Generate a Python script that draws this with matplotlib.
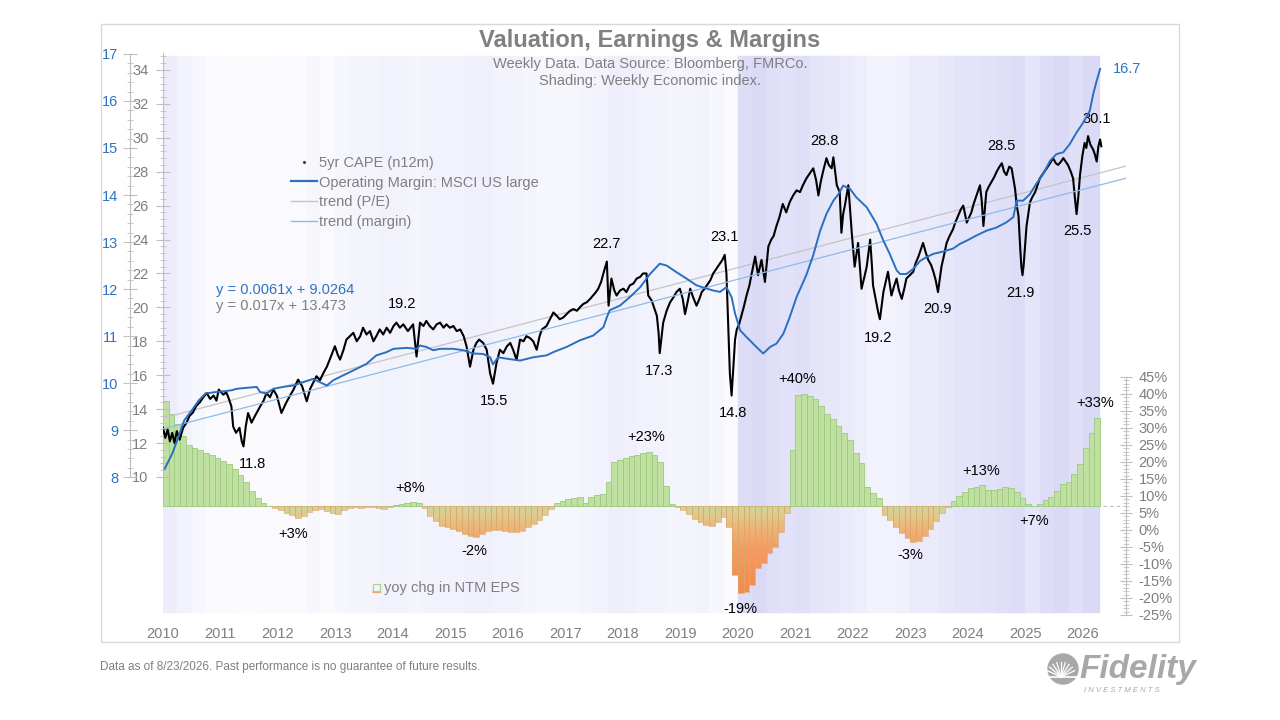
import numpy as np
import matplotlib.pyplot as plt
from matplotlib.colors import LinearSegmentedColormap, to_rgb
from matplotlib.patches import Rectangle, PathPatch, Circle
from matplotlib.path import Path
from matplotlib.lines import Line2D

plt.rcParams['font.family'] = ['Liberation Sans', 'DejaVu Sans']

# ---------------- data ----------------
# 5yr CAPE (n12m), weekly series sampled
cape_years = [
    2010.00, 2010.04, 2010.08, 2010.12, 2010.16, 2010.20, 2010.24, 2010.29, 2010.35, 2010.41,
    2010.46, 2010.52, 2010.58, 2010.64, 2010.70, 2010.76, 2010.82, 2010.88, 2010.93, 2010.97,
    2011.05, 2011.10, 2011.14, 2011.19, 2011.22, 2011.27, 2011.33, 2011.37, 2011.40, 2011.44,
    2011.48, 2011.54, 2011.60, 2011.69, 2011.75, 2011.80, 2011.86, 2011.92, 2011.98, 2012.06,
    2012.14, 2012.21, 2012.27, 2012.35, 2012.42, 2012.47, 2012.50, 2012.56, 2012.62, 2012.67,
    2012.73, 2012.79, 2012.85, 2012.90, 2012.99, 2013.04, 2013.08, 2013.14, 2013.19, 2013.25,
    2013.31, 2013.37, 2013.43, 2013.48, 2013.54, 2013.60, 2013.66, 2013.71, 2013.77, 2013.83,
    2013.89, 2013.95, 2014.01, 2014.06, 2014.12, 2014.18, 2014.26, 2014.35, 2014.41, 2014.47,
    2014.53, 2014.58, 2014.64, 2014.70, 2014.76, 2014.82, 2014.88, 2014.93, 2014.99, 2015.05,
    2015.11, 2015.17, 2015.23, 2015.28, 2015.34, 2015.40, 2015.45, 2015.50, 2015.57, 2015.63,
    2015.69, 2015.74, 2015.80, 2015.86, 2015.92, 2015.98, 2016.04, 2016.09, 2016.15, 2016.21,
    2016.27, 2016.32, 2016.38, 2016.44, 2016.50, 2016.55, 2016.59, 2016.67, 2016.73, 2016.79,
    2016.85, 2016.90, 2016.96, 2017.02, 2017.08, 2017.14, 2017.20, 2017.25, 2017.31, 2017.37,
    2017.43, 2017.48, 2017.53, 2017.57, 2017.62, 2017.66, 2017.72, 2017.75, 2017.80, 2017.85,
    2017.89, 2017.95, 2018.01, 2018.06, 2018.12, 2018.18, 2018.24, 2018.30, 2018.35, 2018.41,
    2018.44, 2018.50, 2018.53, 2018.59, 2018.62, 2018.64, 2018.67, 2018.70, 2018.76, 2018.82,
    2018.88, 2018.93, 2018.99, 2019.04, 2019.08, 2019.13, 2019.17, 2019.22, 2019.28, 2019.33,
    2019.37, 2019.42, 2019.46, 2019.52, 2019.57, 2019.63, 2019.69, 2019.73, 2019.77, 2019.80,
    2019.83, 2019.86, 2019.89, 2019.92, 2019.95, 2019.98, 2020.02, 2020.06, 2020.10, 2020.15,
    2020.20, 2020.24, 2020.30, 2020.35, 2020.41, 2020.47, 2020.53, 2020.58, 2020.62, 2020.67,
    2020.72, 2020.78, 2020.84, 2020.90, 2020.96, 2021.02, 2021.08, 2021.13, 2021.19, 2021.25,
    2021.31, 2021.36, 2021.40, 2021.44, 2021.48, 2021.54, 2021.58, 2021.63, 2021.66, 2021.69,
    2021.72, 2021.77, 2021.80, 2021.83, 2021.86, 2021.92, 2021.95, 2021.98, 2022.03, 2022.09,
    2022.15, 2022.20, 2022.24, 2022.30, 2022.33, 2022.35, 2022.40, 2022.44, 2022.47, 2022.53,
    2022.57, 2022.61, 2022.67, 2022.72, 2022.76, 2022.80, 2022.85, 2022.90, 2022.93, 2022.99,
    2023.05, 2023.09, 2023.14, 2023.18, 2023.22, 2023.27, 2023.31, 2023.36, 2023.40, 2023.44,
    2023.48, 2023.54, 2023.58, 2023.63, 2023.68, 2023.74, 2023.78, 2023.83, 2023.88, 2023.92,
    2023.98, 2024.02, 2024.06, 2024.10, 2024.15, 2024.21, 2024.24, 2024.27, 2024.32, 2024.36,
    2024.41, 2024.46, 2024.50, 2024.55, 2024.59, 2024.63, 2024.67, 2024.72, 2024.76, 2024.82,
    2024.85, 2024.88, 2024.91, 2024.93, 2024.95, 2024.97, 2025.02, 2025.08, 2025.12, 2025.17,
    2025.21, 2025.25, 2025.31, 2025.37, 2025.43, 2025.48, 2025.53, 2025.57, 2025.62, 2025.66,
    2025.70, 2025.74, 2025.79, 2025.83, 2025.86, 2025.89, 2025.92, 2025.95, 2025.99, 2026.03,
    2026.06, 2026.09, 2026.13, 2026.18, 2026.21, 2026.24, 2026.27, 2026.30, 2026.32,
]
cape_vals = [
    12.9, 12.3, 12.8, 12.1, 12.6, 12.0, 12.7, 12.2, 12.9, 13.2,
    13.6, 13.8, 14.2, 14.4, 14.7, 14.95, 14.6, 14.8, 14.5, 15.15,
    14.85, 15.0, 14.66, 14.16, 12.98, 12.6, 12.9, 12.1, 11.8, 13.0,
    13.77, 13.2, 13.6, 14.16, 14.5, 14.95, 14.7, 15.15, 14.8, 13.77,
    14.36, 14.8, 15.15, 15.74, 15.35, 14.8, 14.46, 15.2, 15.6, 15.94,
    15.7, 16.13, 16.5, 16.92, 17.71, 17.2, 16.92, 17.5, 18.1, 18.3,
    18.5, 18.0, 18.3, 18.8, 18.4, 18.6, 18.0, 18.3, 18.7, 18.4,
    18.8, 18.5, 18.9, 19.1, 18.8, 19.0, 18.6, 19.0, 17.1, 19.1,
    18.9, 19.2, 18.9, 18.7, 19.0, 19.1, 18.8, 19.0, 18.8, 18.9,
    18.6, 18.7, 18.3, 17.7, 16.5, 17.5, 17.9, 18.1, 17.9, 17.5,
    16.1, 15.5, 16.7, 17.5, 17.3, 17.7, 17.9, 17.5, 16.9, 18.1,
    18.0, 18.3, 18.2, 18.0, 17.5, 18.3, 18.7, 18.9, 19.3, 19.7,
    19.5, 19.3, 19.4, 19.6, 19.8, 19.9, 19.8, 20.0, 20.2, 20.3,
    20.5, 20.7, 20.9, 21.1, 21.5, 22.0, 22.7, 20.1, 21.7, 21.0,
    20.7, 21.0, 21.1, 20.9, 21.3, 21.4, 21.7, 21.8, 22.0, 22.0,
    20.7, 20.4, 20.1, 19.5, 18.5, 17.3, 18.2, 19.1, 19.8, 20.3,
    20.6, 20.9, 21.1, 20.5, 19.6, 20.4, 21.1, 20.6, 20.1, 20.5,
    20.9, 21.1, 21.3, 21.6, 22.0, 22.3, 22.6, 22.8, 23.1, 22.0,
    19.1, 16.1, 14.8, 16.5, 18.1, 18.7, 19.0, 19.5, 20.0, 20.7,
    21.3, 22.0, 23.0, 21.9, 22.8, 21.5, 23.6, 24.0, 24.2, 24.8,
    25.3, 26.1, 25.6, 26.2, 26.6, 26.9, 26.8, 27.2, 27.6, 27.9,
    28.2, 27.5, 26.6, 27.4, 28.0, 28.8, 28.4, 28.2, 28.85, 28.0,
    27.2, 26.8, 24.4, 25.5, 26.0, 27.2, 25.8, 24.4, 22.4, 23.8,
    21.1, 21.8, 22.4, 24.0, 22.5, 21.3, 20.4, 19.7, 19.3, 20.9,
    21.5, 22.1, 20.7, 21.3, 21.7, 21.0, 20.5, 21.2, 21.7, 21.9,
    22.1, 22.6, 23.0, 23.4, 23.8, 23.2, 22.8, 22.5, 22.1, 21.6,
    20.9, 22.4, 23.0, 23.8, 24.2, 24.6, 25.0, 25.4, 25.8, 26.0,
    25.0, 25.3, 25.6, 26.1, 26.6, 27.2, 26.3, 24.8, 26.8, 27.1,
    27.4, 27.7, 28.0, 28.3, 28.5, 28.0, 27.8, 28.3, 28.2, 27.0,
    26.0, 25.4, 23.5, 22.4, 21.9, 22.5, 24.8, 26.2, 26.5, 26.8,
    27.2, 27.6, 27.9, 28.2, 28.5, 28.8, 28.5, 28.4, 28.6, 28.8,
    28.6, 28.4, 28.0, 27.6, 26.5, 25.5, 26.5, 27.8, 28.9, 29.7,
    29.4, 30.1, 29.6, 29.3, 29.0, 28.6, 29.5, 29.9, 29.5,
]

# Operating margin: MSCI US large
margin_years = [
    2010.03, 2010.16, 2010.27, 2010.37, 2010.50, 2010.62, 2010.74, 2010.91, 2011.08, 2011.20,
    2011.28, 2011.45, 2011.63, 2011.69, 2011.80, 2011.92, 2012.09, 2012.27, 2012.44, 2012.61,
    2012.73, 2012.85, 2012.96, 2013.14, 2013.31, 2013.54, 2013.71, 2013.89, 2014.01, 2014.24,
    2014.41, 2014.47, 2014.58, 2014.70, 2014.82, 2015.05, 2015.22, 2015.40, 2015.57, 2015.69,
    2015.74, 2015.83, 2015.98, 2016.21, 2016.44, 2016.67, 2016.79, 2017.02, 2017.25, 2017.48,
    2017.66, 2017.72, 2017.77, 2017.95, 2018.12, 2018.30, 2018.47, 2018.64, 2018.76, 2018.93,
    2019.11, 2019.28, 2019.46, 2019.57, 2019.69, 2019.80, 2019.89, 2019.95, 2020.04, 2020.15,
    2020.32, 2020.44, 2020.56, 2020.67, 2020.79, 2020.90, 2021.02, 2021.19, 2021.31, 2021.43,
    2021.54, 2021.66, 2021.75, 2021.83, 2021.95, 2022.06, 2022.24, 2022.41, 2022.53, 2022.64,
    2022.76, 2022.82, 2022.93, 2023.05, 2023.17, 2023.28, 2023.40, 2023.51, 2023.63, 2023.74,
    2023.86, 2023.98, 2024.15, 2024.32, 2024.50, 2024.67, 2024.79, 2024.85, 2024.96, 2025.08,
    2025.19, 2025.31, 2025.43, 2025.54, 2025.66, 2025.77, 2025.89, 2025.99, 2026.12, 2026.18,
    2026.24, 2026.30,
]
margin_vals = [
    8.18, 8.50, 8.86, 9.21, 9.42, 9.63, 9.78, 9.81, 9.83, 9.85,
    9.88, 9.90, 9.92, 9.81, 9.78, 9.88, 9.92, 9.95, 10.02, 10.09,
    10.02, 9.95, 10.06, 10.17, 10.27, 10.41, 10.59, 10.66, 10.73, 10.75,
    10.73, 10.80, 10.77, 10.70, 10.73, 10.73, 10.70, 10.63, 10.62, 10.55,
    10.40, 10.55, 10.52, 10.48, 10.55, 10.59, 10.66, 10.77, 10.91, 11.01,
    11.19, 11.40, 11.55, 11.65, 11.83, 12.04, 12.32, 12.54, 12.50, 12.36,
    12.22, 12.08, 12.01, 11.97, 11.94, 12.04, 11.83, 11.48, 11.12, 10.98,
    10.77, 10.63, 10.77, 10.84, 11.05, 11.40, 11.83, 12.30, 12.72, 13.24,
    13.60, 13.88, 14.02, 14.20, 14.13, 13.95, 13.74, 13.39, 13.03, 12.75,
    12.40, 12.32, 12.32, 12.43, 12.60, 12.68, 12.75, 12.78, 12.82, 12.86,
    12.96, 13.03, 13.14, 13.24, 13.31, 13.42, 13.53, 13.88, 13.88, 14.02,
    14.24, 14.45, 14.73, 14.87, 14.91, 15.08, 15.33, 15.51, 15.79, 16.15,
    16.43, 16.68,
]

# yoy chg in NTM EPS (%), one bar every 0.1 year from 2010.0
eps_start = 2010.0
eps_step = 0.1
eps_base = 7.0
eps_yoy = [
    38.0, 34.0, 31.0, 27.5, 25.0, 24.0, 23.5, 22.5, 22.0, 21.2,   # 2010
    20.4, 19.3, 18.0, 16.3, 14.0, 11.5, 9.5, 8.0, 7.1, 6.5,       # 2011
    5.8, 5.1, 4.3, 3.4, 4.2, 5.2, 5.8, 6.1, 5.6, 5.0,             # 2012
    4.8, 5.8, 6.4, 6.6, 6.4, 6.8, 6.8, 6.4, 6.1, 6.6,             # 2013
    7.2, 7.6, 7.9, 8.1, 7.9, 6.5, 4.0, 2.5, 1.2, 0.8,             # 2014
    0.3, -0.3, -1.2, -1.8, -2.0, -1.2, -0.3, 0.0, 0.0, -0.2,      # 2015
    -0.5, -0.5, -0.2, 0.8, 1.8, 3.0, 4.5, 6.2, 8.0, 8.5,          # 2016
    9.2, 9.3, 9.6, 7.8, 9.8, 10.3, 10.5, 14.2, 20.0, 20.5,        # 2017
    21.1, 21.8, 22.1, 22.6, 23.0, 22.1, 20.1, 12.8, 7.6, 6.6,     # 2018
    5.9, 4.6, 3.2, 2.2, 1.6, 1.2, 2.4, 3.9, 1.0, -13.2,           # 2019
    -18.6, -18.1, -16.2, -11.3, -9.8, -6.9, -4.9, -0.5, 4.9, 23.5,  # 2020
    39.7, 40.0, 39.5, 38.5, 36.5, 34.0, 32.6, 30.5, 28.5, 26.5,   # 2021
    22.5, 19.6, 12.5, 11.0, 9.5, 4.4, 3.0, 1.0, -1.0, -2.5,       # 2022
    -3.4, -3.2, -1.8, 0.3, 2.5, 5.0, 6.8, 8.5, 10.0, 11.2,        # 2023
    12.3, 12.7, 13.1, 11.8, 11.7, 12.0, 12.5, 12.3, 11.2, 9.5,    # 2024
    7.6, 7.1, 7.6, 8.8, 9.8, 11.5, 13.5, 14.2, 16.5, 19.5,        # 2025
    24.0, 28.5, 33.0,                                             # 2026
]

# Weekly economic index shading, quarterly intensity 0..1
shade_start = 2010.0
shade_step = 0.25
shade_end = 2026.3
shade_level = [
    0.45, 0.30, 0.20, 0.15,
    0.15, 0.10, 0.10, 0.12,
    0.12, 0.15, 0.20, 0.15,
    0.20, 0.25, 0.25, 0.30,
    0.30, 0.25, 0.30, 0.30,
    0.30, 0.35, 0.35, 0.30,
    0.30, 0.25, 0.20, 0.20,
    0.20, 0.25, 0.30, 0.40,
    0.35, 0.30, 0.30, 0.25,
    0.25, 0.30, 0.20, 0.10,
    0.80, 0.85, 0.75, 0.70,
    0.75, 0.60, 0.55, 0.50,
    0.40, 0.30, 0.30, 0.35,
    0.50, 0.50, 0.55, 0.65,
    0.65, 0.70, 0.75, 0.80,
    0.60, 0.80, 0.85, 0.75,
    0.85, 0.85,
]

# linear trends, x = weeks since start of 2010
pe_trend = (0.017, 13.473)
margin_trend = (0.0061, 9.0264)
trend_end = 2026.75

# highs / lows called out on the chart: (year, value, +1 above / -1 below)
cape_marks = [
    (2011.55, 11.8, -1), (2014.16, 19.2, 1), (2015.76, 15.5, -1), (2017.71, 22.7, 1),
    (2018.63, 17.3, -1), (2019.77, 23.1, 1), (2019.91, 14.8, -1), (2021.51, 28.8, 1),
    (2022.43, 19.2, -1), (2023.48, 20.9, -1), (2024.59, 28.5, 1), (2024.92, 21.9, -1),
    (2025.91, 25.5, -1), (2026.24, 30.1, 1),
]
eps_marks = [
    (2012.26, 3, -1), (2014.30, 8, 1), (2015.41, -2, -1), (2018.40, 23, 1),
    (2020.05, -19, -1), (2021.03, 40, 1), (2022.99, -3, -1), (2024.23, 13, 1),
    (2025.15, 7, -1), (2026.21, 33, 1),
]

years = list(range(2010, 2027))

# ---------------- figure ----------------
W, H = 1280, 720
fig = plt.figure(figsize=(W / 100, H / 100), dpi=100)


def fx(p):
    return p / W


def fy(p):
    return 1 - p / H


gray = '#7f7f7f'
spine_c = '#bfbfbf'
blue_txt = '#2f72c4'
blue_line = '#2a6fc0'

L, R, T, B = 163, 1126, 53, 615
ax_eps = fig.add_axes([fx(L), fy(B), (R - L) / W, (B - T) / H])
ax_cape = ax_eps.twinx()
ax_mar = ax_eps.twinx()
for a in (ax_eps, ax_cape, ax_mar):
    a.patch.set_visible(False)
    for s in a.spines.values():
        s.set_visible(False)

x0, x1 = 2010.0, 2026.75

# shading bands
lav = np.array(to_rgb('#d4d4f6'))
for i, t in enumerate(shade_level):
    a = shade_start + i * shade_step
    b = min(a + shade_step, shade_end)
    c = 1 - (1 - lav) * t
    ax_eps.axvspan(a, b, ymin=0.004, ymax=0.995, facecolor=c, edgecolor=c, lw=0.3, zorder=0)

# EPS bars
v = np.array(eps_yoy)
xb = eps_start + eps_step * (np.arange(len(v)) + 0.5)
up = v >= eps_base
ax_eps.axhline(eps_base, color=spine_c, ls=(0, (3, 3)), lw=0.8, zorder=1)
ax_eps.bar(xb[up], v[up] - eps_base, bottom=eps_base, width=eps_step,
           color='#c0e0a2', edgecolor='#9ccb7c', lw=0.6, zorder=2)

rects = []
for xc, val in zip(xb[~up], v[~up]):
    r = Rectangle((xc - eps_step / 2, val), eps_step, eps_base - val)
    rects.append(r.get_path().transformed(r.get_patch_transform()))
clip = PathPatch(Path.make_compound_path(*rects), transform=ax_eps.transData,
                 facecolor='none', edgecolor='none')
ax_eps.add_patch(clip)
neg_cmap = LinearSegmentedColormap.from_list(
    'neg', [(0.0, '#f6854a'), (0.556, '#f39e64'), (0.741, '#efb176'),
            (0.889, '#e2c98c'), (1.0, '#cbd69c')])
grad = np.linspace(-20, eps_base, 256).reshape(-1, 1)
im = ax_eps.imshow(grad, cmap=neg_cmap, vmin=-20, vmax=eps_base, origin='lower',
                   extent=[x0, x1, -20, eps_base], aspect='auto',
                   interpolation='bilinear', zorder=2)
im.set_clip_path(clip)
ax_eps.bar(xb[~up], v[~up] - eps_base, bottom=eps_base, width=eps_step,
           facecolor='none', edgecolor='#d9a86a', lw=0.6, alpha=0.8, zorder=3)

# CAPE + trends
tt = np.array([x0, trend_end])
wk = (tt - x0) * 52.18
ax_cape.plot(tt, pe_trend[0] * wk + pe_trend[1], color='#c4c4c4', lw=0.9, zorder=2)
ax_cape.plot(cape_years, cape_vals, color='black', lw=1.5, zorder=3)

# margin + trend
ax_mar.plot(tt, margin_trend[0] * wk + margin_trend[1], color='#8dbbe8', lw=0.9, zorder=2)
ax_mar.plot(margin_years, margin_vals, color=blue_line, lw=1.4, zorder=3)

# limits
ax_eps.set_xlim(x0, x1)
ax_eps.set_ylim(-25, 140.2)
ax_cape.set_ylim(1.86, 35.0)
ax_mar.set_ylim(5.07, 17.02)

# x axis
ax_eps.set_xticks(years)
ax_eps.tick_params(axis='x', length=0, pad=9, labelsize=10.5, labelcolor=gray)

# right axis: EPS %
ax_eps.yaxis.tick_right()
ax_eps.spines['right'].set_visible(True)
ax_eps.spines['right'].set_color(spine_c)
ax_eps.spines['right'].set_bounds(-25, 45)
ax_eps.set_yticks(np.arange(-25, 46, 5))
ax_eps.set_yticks(np.arange(-25, 46, 1), minor=True)
ax_eps.yaxis.set_major_formatter(lambda val, pos: f'{val:.0f}%')
ax_eps.tick_params(axis='y', which='major', direction='inout', length=8, width=0.8,
                   color=spine_c, labelsize=10.5, labelcolor=gray, pad=5)
ax_eps.tick_params(axis='y', which='minor', direction='inout', length=4, width=0.6,
                   color=spine_c)

# left axis: CAPE
ax_cape.yaxis.tick_left()
ax_cape.spines['left'].set_visible(True)
ax_cape.spines['left'].set_color(spine_c)
ax_cape.spines['left'].set_bounds(10, 35)
ax_cape.set_yticks(np.arange(10, 35, 2))
ax_cape.set_yticks(np.arange(10, 35.01, 0.4), minor=True)
ax_cape.tick_params(axis='y', which='major', direction='inout', length=10, width=0.8,
                    color=spine_c, labelsize=10.5, labelcolor=gray, pad=5.5)
ax_cape.tick_params(axis='y', which='minor', direction='inout', length=4, width=0.6,
                    color=spine_c)

# outer left axis: margin
ax_mar.yaxis.tick_left()
ax_mar.spines['left'].set_visible(True)
ax_mar.spines['left'].set_color(spine_c)
ax_mar.spines['left'].set_position(('outward', 23.8))
ax_mar.spines['left'].set_bounds(8, 17)
ax_mar.set_yticks(np.arange(8, 18, 1))
ax_mar.set_yticks(np.arange(8, 17.01, 0.2), minor=True)
ax_mar.tick_params(axis='y', which='major', direction='inout', length=10, width=0.8,
                   color=spine_c, labelsize=10.5, labelcolor=blue_txt, pad=3.5)
ax_mar.tick_params(axis='y', which='minor', direction='inout', length=4, width=0.6,
                   color=spine_c)

# callouts
for xm, val, side in cape_marks:
    ax_cape.annotate(f'{val:.1f}', (xm, val), xytext=(0, 12.5 * side),
                     textcoords='offset points', ha='center', va='center',
                     fontsize=10.5, color='black', zorder=5)
for xm, val, side in eps_marks:
    txt = f'+{val}%' if val > 0 else f'{val}%'
    ax_eps.annotate(txt, (xm, val), xytext=(0, 10.5 * side),
                    textcoords='offset points', ha='center', va='center',
                    fontsize=10.5, color='black', zorder=5)
ax_mar.annotate(f'{margin_vals[-1]:.1f}', (margin_years[-1], margin_vals[-1]),
                xytext=(9, 0), textcoords='offset points', ha='left', va='center',
                fontsize=10.5, color=blue_txt)

# legend
handles = [
    Line2D([], [], ls='', marker='.', ms=2.5, color='#404040'),
    Line2D([], [], color=blue_line, lw=1.6),
    Line2D([], [], color='#c4c4c4', lw=1.0),
    Line2D([], [], color='#8dbbe8', lw=1.0),
]
labels = ['5yr CAPE (n12m)', 'Operating Margin: MSCI US large', 'trend (P/E)', 'trend (margin)']
ax_mar.legend(handles, labels, loc='upper left', bbox_to_anchor=(fx(291), fy(156)),
              bbox_transform=fig.transFigure, frameon=False, fontsize=10.5,
              labelcolor=gray, handlelength=1.75, handletextpad=0.2,
              labelspacing=0.38, borderpad=0, borderaxespad=0)

fig.text(fx(216), fy(290), 'y = 0.0061x + 9.0264', color=blue_txt, fontsize=10.5, va='center')
fig.text(fx(216), fy(306), 'y = 0.017x + 13.473', color=gray, fontsize=10.5, va='center')

# EPS legend
fig.add_artist(Rectangle((fx(373), fy(592)), 7 / W, 8 / H, transform=fig.transFigure,
                         fill=False, ec='#a9d48a', lw=0.9))
fig.add_artist(Line2D([fx(373), fx(380)], [fy(592), fy(592)], transform=fig.transFigure,
                      color='#f0a060', lw=1.1))
fig.text(fx(384), fy(588), 'yoy chg in NTM EPS', color=gray, fontsize=10.5, va='center')

# titles
fig.text(fx(650), fy(41), 'Valuation, Earnings & Margins', ha='center', va='center',
         fontsize=17, fontweight='bold', color='#808080')
fig.text(fx(650), fy(64), 'Weekly Data. Data Source: Bloomberg, FMRCo.', ha='center',
         va='center', fontsize=10.5, color=gray)
fig.text(fx(650), fy(81), 'Shading: Weekly Economic index.', ha='center',
         va='center', fontsize=10.5, color=gray)

# frame
fig.add_artist(Rectangle((fx(101), fy(642)), (1179 - 101) / W, (642 - 24) / H,
                         transform=fig.transFigure, fill=False, ec='#d9d9d9', lw=1))

# footer
fig.text(fx(100), fy(667), 'Data as of 8/23/2026. Past performance is no guarantee of future results.',
         fontsize=8.5, color=gray, va='center')

# logo
logo_c = '#a8a8a8'
lax = fig.add_axes([fx(1046), fy(686), 34 / W, 34 / H])
lax.set_xlim(0, 34)
lax.set_ylim(0, 34)
lax.axis('off')
lax.add_patch(Circle((17, 17), 15, color=logo_c))
for ang in np.linspace(25, 155, 9):
    r = np.deg2rad(ang)
    lax.plot([15, 15 + 15 * np.cos(r)], [9, 9 + 15 * np.sin(r)], color='white', lw=0.9)
lax.plot([3, 31], [9, 9], color='white', lw=1.2)
fig.text(fx(1079), fy(678), 'Fidelity', fontsize=24, fontweight='bold', fontstyle='italic',
         color=logo_c, va='baseline', ha='left')
fig.text(fx(1084), fy(690), 'I N V E S T M E N T S', fontsize=5.5, fontstyle='italic',
         color=logo_c, va='center', ha='left')

fig.savefig('out.png', dpi=100)
